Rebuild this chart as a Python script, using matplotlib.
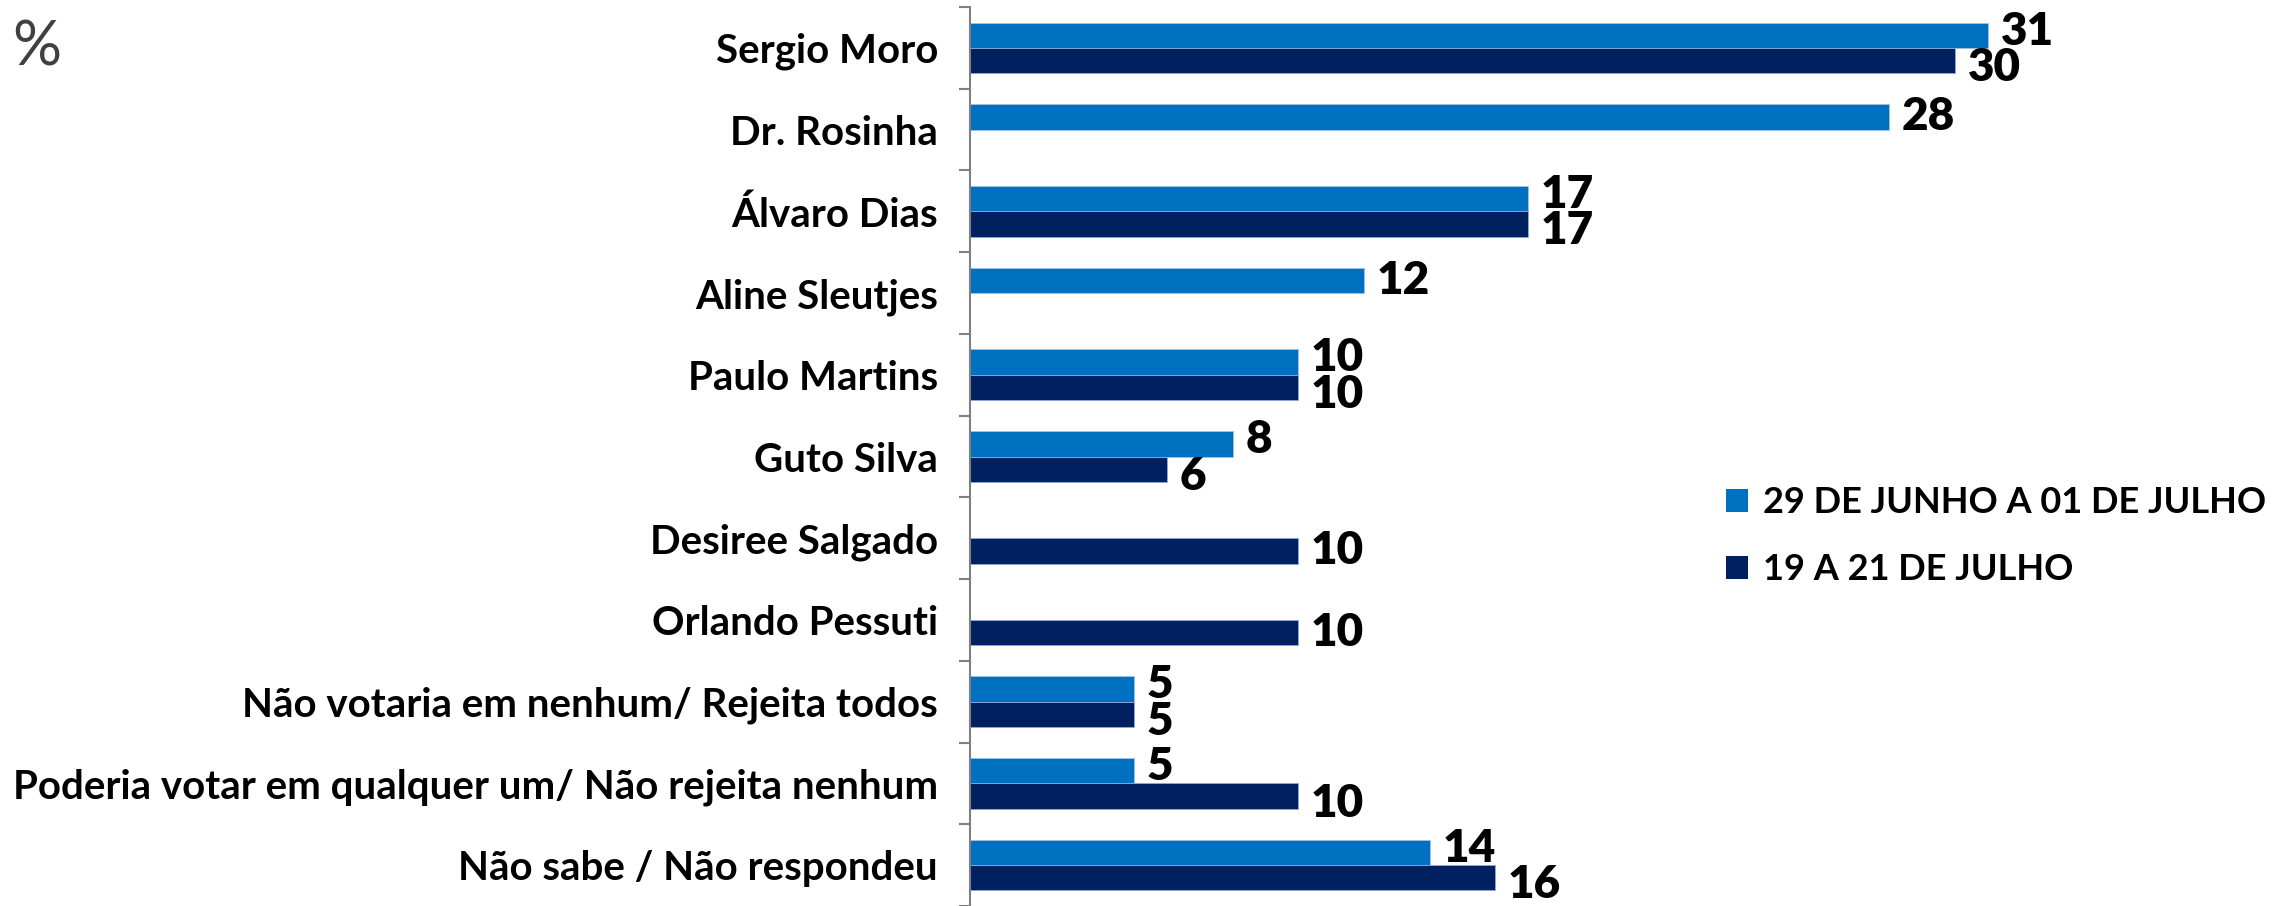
import numpy as np
import matplotlib
matplotlib.use("Agg")
import matplotlib.pyplot as plt
from matplotlib.patches import Patch

categories = ["Sergio Moro", "Dr. Rosinha", "Álvaro Dias", "Aline Sleutjes", "Paulo Martins",
              "Guto Silva", "Desiree Salgado", "Orlando Pessuti",
              "Não votaria em nenhum/ Rejeita todos",
              "Poderia votar em qualquer um/ Não rejeita nenhum",
              "Não sabe / Não respondeu"]
jun_jul = [31, 28, 17, 12, 10, 8, np.nan, np.nan, 5, 5, 14]
jul = [30, np.nan, 17, np.nan, 10, 6, 10, 10, 5, 10, 16]
series_names = ["29 DE JUNHO A 01 DE JULHO", "19 A 21 DE JULHO"]

light = "#0070C0"
dark = "#002060"
font = ["Lato", "DejaVu Sans"]

fig = plt.figure(figsize=(22.95, 9.06), dpi=100)
ax = fig.add_axes([970 / 2295, 0, 1 - 970 / 2295 - 0.005, 1 - 7 / 906])

y = np.arange(len(categories))
h = 0.31
ax.barh(y - h / 2, np.nan_to_num(jun_jul), height=h, color=light,
        edgecolor="#9DC3E6", linewidth=0.6)
ax.barh(y + h / 2, np.nan_to_num(jul), height=h, color=dark,
        edgecolor="#8FAADC", linewidth=0.6)

for i in range(len(categories)):
    a, b = jun_jul[i], jul[i]
    both = not np.isnan(a) and not np.isnan(b)
    if not np.isnan(a):
        ax.annotate(f"{a:g}", (a, i - h / 2), xytext=(9, 3 if both else 0),
                    textcoords="offset points", va="center", ha="left",
                    fontsize=33, fontweight="heavy", family=font)
    if not np.isnan(b):
        ax.annotate(f"{b:g}", (b, i + h / 2), xytext=(9, -5 if both else 0),
                    textcoords="offset points", va="center", ha="left",
                    fontsize=33, fontweight="heavy", family=font)

ax.set_xlim(0, 40)
ax.set_ylim(-0.5 + 899 / 82.4, -0.5)
ax.set_yticks(y)
ax.set_yticklabels(categories, fontsize=29, fontweight="bold", family=font)
ax.set_yticks(np.arange(-0.5, len(categories), 1), minor=True)
ax.tick_params(axis="y", which="major", length=0, pad=23)
ax.tick_params(axis="y", which="minor", length=8, width=1.5, color="#7f7f7f")
ax.set_xticks([])
for s in ["top", "right", "bottom"]:
    ax.spines[s].set_visible(False)
ax.spines["left"].set_color("#7f7f7f")
ax.spines["left"].set_linewidth(1.5)

fig.text(12 / 2295, 1 - 66 / 906, "%", fontsize=44, color="#404040", family=font)

handles = [Patch(facecolor=light), Patch(facecolor=dark)]
fig.legend(handles, series_names, loc="upper left", bbox_to_anchor=(1726 / 2295, 1 - 486 / 906),
           frameon=False, borderpad=0, borderaxespad=0, handlelength=0.62, handleheight=0.62,
           handletextpad=0.4, labelspacing=0.95,
           prop={"family": font, "weight": "bold", "size": 26})

fig.savefig("out.png", dpi=100)
